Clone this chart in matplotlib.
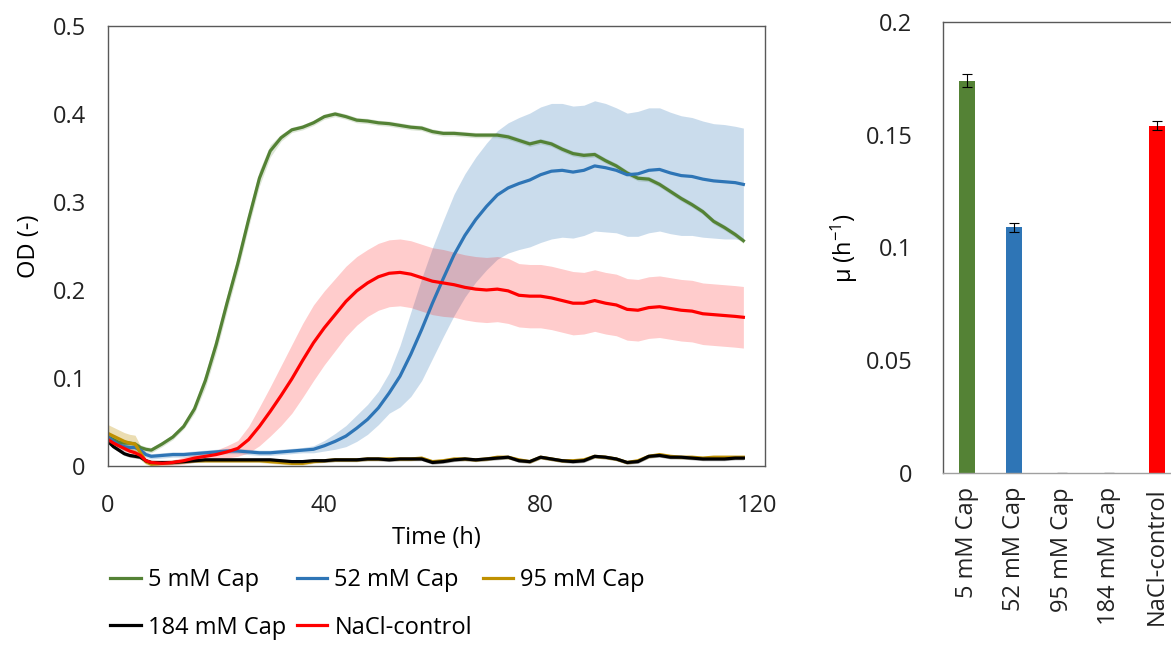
import matplotlib
matplotlib.use("Agg")
import matplotlib.pyplot as plt

plt.rcParams['font.family'] = ['Open Sans', 'DejaVu Sans']
plt.rcParams['mathtext.default'] = 'regular'

# growth curves (OD)
time_h = [0, 1, 2, 3, 4, 5, 6, 7, 8, 10, 12, 14, 16, 18, 20, 22, 24, 26, 28, 30,
          32, 34, 36, 38, 40, 42, 44, 46, 48, 50, 52, 54, 56, 58, 60, 62, 64, 66, 68, 70,
          72, 74, 76, 78, 80, 82, 84, 86, 88, 90, 92, 94, 96, 98, 100, 102, 104, 106, 108, 110,
          112, 114, 116, 117.5]

od_5mM = [0.033, 0.030, 0.027, 0.026, 0.026, 0.025, 0.021, 0.019, 0.018, 0.025, 0.033, 0.045, 0.065, 0.097, 0.138, 0.185, 0.230, 0.280, 0.327, 0.358,
          0.373, 0.382, 0.385, 0.390, 0.397, 0.400, 0.397, 0.393, 0.392, 0.390, 0.389, 0.387, 0.385, 0.384, 0.380, 0.378, 0.378, 0.377, 0.376, 0.376,
          0.376, 0.374, 0.370, 0.366, 0.369, 0.366, 0.360, 0.355, 0.353, 0.354, 0.347, 0.341, 0.333, 0.327, 0.326, 0.320, 0.312, 0.304, 0.297, 0.289,
          0.278, 0.271, 0.263, 0.256]
err_5mM = [0.003, 0.003, 0.003, 0.003, 0.003, 0.003, 0.003, 0.003, 0.003, 0.003, 0.003, 0.003, 0.005, 0.008, 0.009, 0.009, 0.009, 0.009, 0.009, 0.007,
           0.004, 0.003, 0.003, 0.003, 0.003, 0.003, 0.003, 0.003, 0.003, 0.003, 0.003, 0.003, 0.003, 0.003, 0.003, 0.003, 0.003, 0.003, 0.003, 0.003,
           0.003, 0.003, 0.003, 0.003, 0.003, 0.003, 0.003, 0.003, 0.003, 0.003, 0.003, 0.003, 0.003, 0.003, 0.003, 0.003, 0.003, 0.003, 0.003, 0.003,
           0.003, 0.003, 0.003, 0.003]

od_52mM = [0.033, 0.028, 0.024, 0.022, 0.021, 0.021, 0.018, 0.013, 0.011, 0.012, 0.013, 0.013, 0.014, 0.015, 0.016, 0.017, 0.017, 0.016, 0.015, 0.015,
           0.016, 0.017, 0.018, 0.019, 0.023, 0.028, 0.034, 0.043, 0.053, 0.066, 0.083, 0.102, 0.127, 0.155, 0.185, 0.213, 0.240, 0.262, 0.280, 0.295,
           0.308, 0.316, 0.321, 0.325, 0.331, 0.335, 0.336, 0.334, 0.336, 0.341, 0.339, 0.336, 0.331, 0.332, 0.336, 0.337, 0.333, 0.330, 0.329, 0.326,
           0.324, 0.323, 0.322, 0.320]
err_52mM = [0.005, 0.005, 0.005, 0.005, 0.005, 0.005, 0.004, 0.003, 0.003, 0.003, 0.003, 0.003, 0.003, 0.003, 0.003, 0.003, 0.003, 0.003, 0.003, 0.003,
            0.003, 0.003, 0.003, 0.004, 0.006, 0.009, 0.012, 0.015, 0.017, 0.019, 0.023, 0.035, 0.048, 0.058, 0.063, 0.066, 0.069, 0.070, 0.071, 0.072,
            0.073, 0.074, 0.075, 0.076, 0.077, 0.077, 0.076, 0.075, 0.074, 0.074, 0.073, 0.071, 0.070, 0.071, 0.071, 0.070, 0.069, 0.068, 0.067, 0.066,
            0.065, 0.065, 0.064, 0.064]

od_95mM = [0.037, 0.034, 0.031, 0.028, 0.026, 0.025, 0.015, 0.005, 0.002, 0.003, 0.004, 0.005, 0.006, 0.006, 0.006, 0.006, 0.006, 0.006, 0.006, 0.005,
           0.004, 0.003, 0.003, 0.005, 0.006, 0.007, 0.007, 0.007, 0.008, 0.008, 0.008, 0.008, 0.008, 0.009, 0.005, 0.006, 0.008, 0.008, 0.007, 0.008,
           0.010, 0.010, 0.007, 0.005, 0.010, 0.008, 0.006, 0.006, 0.007, 0.011, 0.010, 0.008, 0.004, 0.006, 0.011, 0.013, 0.011, 0.010, 0.010, 0.009,
           0.010, 0.010, 0.010, 0.010]
err_95mM = [0.010, 0.010, 0.010, 0.010, 0.010, 0.010, 0.008, 0.003, 0.002, 0.002, 0.002, 0.002, 0.002, 0.002, 0.002, 0.002, 0.002, 0.002, 0.002, 0.002,
            0.002, 0.002, 0.002, 0.002, 0.002, 0.002, 0.002, 0.002, 0.002, 0.002, 0.002, 0.002, 0.002, 0.002, 0.002, 0.002, 0.002, 0.002, 0.002, 0.002,
            0.002, 0.002, 0.002, 0.002, 0.002, 0.002, 0.002, 0.002, 0.002, 0.002, 0.002, 0.002, 0.002, 0.002, 0.002, 0.002, 0.002, 0.002, 0.002, 0.002,
            0.002, 0.002, 0.002, 0.002]

od_184mM = [0.028, 0.022, 0.018, 0.014, 0.012, 0.011, 0.010, 0.006, 0.004, 0.004, 0.004, 0.005, 0.006, 0.007, 0.007, 0.007, 0.007, 0.007, 0.007, 0.007,
            0.006, 0.005, 0.005, 0.006, 0.006, 0.007, 0.007, 0.007, 0.008, 0.008, 0.007, 0.008, 0.008, 0.008, 0.004, 0.005, 0.007, 0.008, 0.007, 0.008,
            0.009, 0.010, 0.006, 0.005, 0.010, 0.008, 0.006, 0.005, 0.006, 0.011, 0.010, 0.008, 0.004, 0.005, 0.011, 0.012, 0.010, 0.010, 0.009, 0.008,
            0.008, 0.008, 0.009, 0.009]
err_184mM = [0.002] * len(time_h)

od_nacl = [0.030, 0.026, 0.023, 0.020, 0.017, 0.015, 0.012, 0.006, 0.004, 0.003, 0.004, 0.006, 0.009, 0.011, 0.013, 0.016, 0.020, 0.030, 0.045, 0.062,
           0.080, 0.099, 0.120, 0.140, 0.157, 0.172, 0.187, 0.199, 0.208, 0.215, 0.219, 0.220, 0.218, 0.214, 0.210, 0.208, 0.206, 0.203, 0.201, 0.200,
           0.201, 0.199, 0.194, 0.193, 0.193, 0.191, 0.188, 0.185, 0.185, 0.188, 0.185, 0.183, 0.178, 0.177, 0.180, 0.181, 0.179, 0.177, 0.176, 0.173,
           0.172, 0.171, 0.170, 0.169]
err_nacl = [0.004, 0.004, 0.004, 0.003, 0.003, 0.003, 0.003, 0.003, 0.003, 0.003, 0.003, 0.004, 0.004, 0.005, 0.005, 0.007, 0.009, 0.015, 0.022, 0.028,
            0.034, 0.039, 0.042, 0.043, 0.042, 0.041, 0.040, 0.039, 0.038, 0.038, 0.038, 0.038, 0.038, 0.038, 0.038, 0.038, 0.037, 0.037, 0.037, 0.037,
            0.037, 0.037, 0.036, 0.036, 0.036, 0.036, 0.036, 0.036, 0.035, 0.035, 0.035, 0.035, 0.035, 0.035, 0.035, 0.035, 0.035, 0.035, 0.035, 0.035,
            0.035, 0.035, 0.035, 0.035]

labels = ['5 mM Cap', '52 mM Cap', '95 mM Cap', '184 mM Cap', 'NaCl-control']
colors = ['#548235', '#2e75b6', '#bf9000', '#000000', '#ff0000']
band_alpha = [0.2, 0.25, 0.3, 0.3, 0.2]

# growth rates
mu = [0.174, 0.109, 0, 0, 0.154]
mu_err = [0.003, 0.002, 0, 0, 0.002]

series = [(od_5mM, err_5mM), (od_52mM, err_52mM), (od_95mM, err_95mM),
          (od_184mM, err_184mM), (od_nacl, err_nacl)]

fig = plt.figure(figsize=(11.71, 6.45), dpi=100)
ax = fig.add_axes([108/1171, 1 - 466/645, 657/1171, 440/645])
ax2 = fig.add_axes([943/1171, 1 - 473/645, 237.5/1171, 451/645])

# error bands first, then the mean lines
for i in [0, 1, 4, 2, 3]:
    y, e = series[i]
    lo = [a - b for a, b in zip(y, e)]
    hi = [a + b for a, b in zip(y, e)]
    ax.fill_between(time_h, lo, hi, color=colors[i], alpha=band_alpha[i], lw=0)
handles = {}
for i in range(5):
    y, e = series[i]
    h, = ax.plot(time_h, y, color=colors[i], lw=2.3, label=labels[i])
    handles[i] = h

ax.set_xlim(0, 121.5)
ax.set_ylim(0, 0.5)
ax.set_xticks([0, 40, 80, 120])
ax.set_yticks([0, 0.1, 0.2, 0.3, 0.4, 0.5])
ax.set_yticklabels(['0', '0.1', '0.2', '0.3', '0.4', '0.5'])
ax.tick_params(axis='both', length=0, labelsize=17, colors='#222222')
ax.tick_params(axis='x', pad=20)
ax.tick_params(axis='y', pad=16)
ax.set_xlabel('Time (h)', fontsize=17, labelpad=6)
ax.set_ylabel('OD (-)', fontsize=17, labelpad=8)
for s in ax.spines.values():
    s.set_color('#595959')
    s.set_linewidth(1)

leg_order = [0, 3, 1, 4, 2]
fig.legend([handles[i] for i in leg_order], [labels[i] for i in leg_order],
           loc='upper left', bbox_to_anchor=(110/1171, 1 - 568/645), ncol=3,
           frameon=False, fontsize=17, handlelength=1.3, handletextpad=0.3,
           columnspacing=0.45, labelspacing=1.0, borderpad=0, borderaxespad=0)

# bar chart
xpos = list(range(len(labels)))
ax2.bar(xpos, mu, width=0.34, color=colors, yerr=mu_err, capsize=3.5,
        error_kw=dict(elinewidth=0.8, capthick=0.8, ecolor='#000000'))
ax2.set_xlim(-0.5, 4.5)
ax2.set_ylim(0, 0.2)
ax2.set_yticks([0, 0.05, 0.1, 0.15, 0.2])
ax2.set_yticklabels(['0', '0.05', '0.1', '0.15', '0.2'])
ax2.set_xticks(xpos)
ax2.set_xticklabels(labels, rotation=90)
ax2.tick_params(axis='both', length=0, labelsize=17, colors='#222222')
ax2.tick_params(axis='y', pad=22)
ax2.tick_params(axis='x', pad=10)
ax2.set_ylabel(r'μ (h$^{-1}$)', fontsize=17, labelpad=4)
for s in ax2.spines.values():
    s.set_color('#595959')
    s.set_linewidth(1)
ax2.spines['bottom'].set_color('#a0a0a0')

fig.savefig('out.png', dpi=100)
